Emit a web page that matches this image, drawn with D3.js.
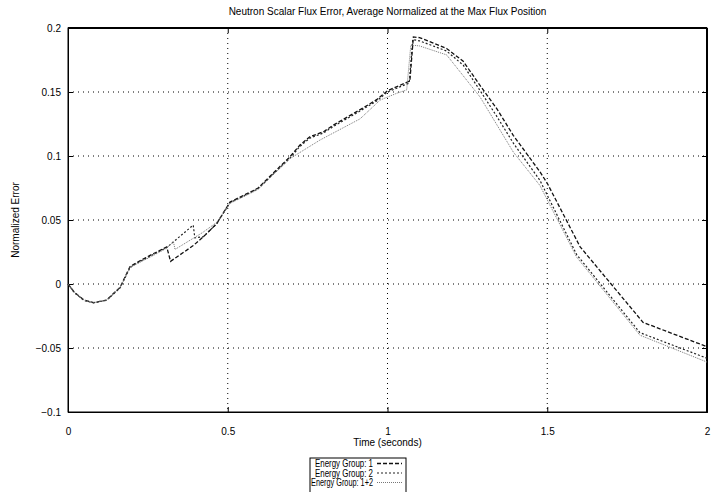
<!DOCTYPE html>
<html>
<head>
<meta charset="utf-8">
<script src="https://cdn.jsdelivr.net/npm/d3@7"></script>
<style>
  body { margin: 0; background: #fff; }
  text { font-family: "Liberation Sans", Arial, sans-serif; fill: #000; }
  .grid line { stroke: #000; stroke-width: 1; stroke-dasharray: 1,4; }
</style>
</head>
<body>
<svg id="chart" width="711" height="492"></svg>
<script>
// values
const time1 = [0, 0.02, 0.05, 0.08, 0.121, 0.163, 0.194, 0.21, 0.257, 0.309, 0.321, 0.392, 0.424, 0.465, 0.507, 0.58, 0.595, 0.695, 0.726, 0.757, 0.80, 0.83, 0.923, 0.966, 1.0, 1.07, 1.081, 1.1, 1.185, 1.237, 1.29, 1.342, 1.394, 1.477, 1.5, 1.603, 1.80, 2.0]
const err1 = [0, -0.0065, -0.0125, -0.0146, -0.0125, -0.0026, 0.0135, 0.016, 0.0224, 0.029, 0.0177, 0.030, 0.037, 0.047, 0.064, 0.073, 0.075, 0.0995, 0.1086, 0.115, 0.119, 0.124, 0.1375, 0.144, 0.151, 0.1586, 0.193, 0.1925, 0.184, 0.174, 0.155, 0.137, 0.116, 0.0877, 0.0787, 0.029, -0.030, -0.049]

const time2 = [0, 0.02, 0.05, 0.08, 0.121, 0.163, 0.194, 0.21, 0.257, 0.309, 0.392, 0.397, 0.424, 0.465, 0.507, 0.58, 0.595, 0.695, 0.726, 0.757, 0.80, 0.83, 0.923, 0.966, 1.0, 1.068, 1.079, 1.1, 1.185, 1.237, 1.29, 1.342, 1.394, 1.477, 1.592, 1.79, 2.0]
const err2 = [0, -0.0068, -0.0128, -0.0148, -0.0127, -0.003, 0.0128, 0.0155, 0.0218, 0.0285, 0.046, 0.036, 0.037, 0.047, 0.0635, 0.0725, 0.0745, 0.0985, 0.1075, 0.114, 0.118, 0.123, 0.1365, 0.143, 0.150, 0.157, 0.191, 0.190, 0.182, 0.171, 0.151, 0.131, 0.110, 0.081, 0.023, -0.038, -0.058]

const time12 = [0, 0.02, 0.05, 0.08, 0.121, 0.163, 0.194, 0.21, 0.257, 0.309, 0.33, 0.335, 0.42, 0.465, 0.507, 0.58, 0.595, 0.695, 0.789, 0.914, 0.977, 1.029, 1.06, 1.073, 1.1, 1.185, 1.29, 1.394, 1.477, 1.592, 1.79, 2.0]
const err12 = [0, -0.0065, -0.0125, -0.0146, -0.0125, -0.0026, 0.013, 0.015, 0.021, 0.028, 0.033, 0.027, 0.040, 0.048, 0.063, 0.072, 0.074, 0.098, 0.1125, 0.129, 0.1437, 0.149, 0.1516, 0.1867, 0.186, 0.179, 0.146, 0.103, 0.077, 0.021, -0.040, -0.061]

const seriesNames = ["Energy Group: 1", "Energy Group: 2", "Energy Group: 1+2"]
const xTicks = [0, 0.5, 1, 1.5, 2]
const yTicks = [-0.1, -0.05, 0, 0.05, 0.1, 0.15, 0.2]

const plotLeft = 68, plotRight = 707, plotTop = 28, plotBottom = 412

const svg = d3.select("#chart")

const x = d3.scaleLinear().domain([0, 2]).range([plotLeft, plotRight])
const y = d3.scaleLinear().domain([-0.1, 0.2]).range([plotBottom, plotTop])

// grid
const grid = svg.append("g").attr("class", "grid")
grid.selectAll("line.gx")
    .data(xTicks.slice(1, -1))
    .enter()
    .append("line")
    .attr("x1", d => x(d)).attr("x2", d => x(d))
    .attr("y1", plotTop).attr("y2", plotBottom)
grid.selectAll("line.gy")
    .data(yTicks.slice(1, -1))
    .enter()
    .append("line")
    .attr("x1", plotLeft).attr("x2", plotRight)
    .attr("y1", d => y(d)).attr("y2", d => y(d))

// axes with mirrored inward ticks
svg.append("g")
    .attr("transform", "translate(0," + plotBottom + ")")
    .call(d3.axisBottom(x).tickValues(xTicks).tickFormat(d3.format("")).tickSize(-5).tickPadding(16))
svg.append("g")
    .attr("transform", "translate(0," + plotTop + ")")
    .call(d3.axisTop(x).tickValues(xTicks).tickFormat("").tickSize(-5))
svg.append("g")
    .attr("transform", "translate(" + plotLeft + ",0)")
    .call(d3.axisLeft(y).tickValues(yTicks).tickFormat(d3.format("")).tickSize(-5).tickPadding(7))
svg.append("g")
    .attr("transform", "translate(" + plotRight + ",0)")
    .call(d3.axisRight(y).tickValues(yTicks).tickFormat("").tickSize(-5))

svg.selectAll(".domain").attr("stroke", "#000")
svg.selectAll(".tick line").attr("stroke", "#000")
svg.selectAll(".tick text").style("font-family", "Liberation Sans, Arial, sans-serif").style("font-size", "10px")

svg.append("rect")
    .attr("x", plotLeft).attr("y", plotTop)
    .attr("width", plotRight - plotLeft).attr("height", plotBottom - plotTop)
    .attr("fill", "none").attr("stroke", "#000").attr("stroke-width", 1)
svg.append("line")
    .attr("x1", plotLeft).attr("x2", plotRight).attr("y1", plotTop).attr("y2", plotTop)
    .attr("stroke", "#000").attr("stroke-width", 2)
svg.append("line")
    .attr("x1", plotRight).attr("x2", plotRight).attr("y1", plotTop).attr("y2", plotBottom)
    .attr("stroke", "#000").attr("stroke-width", 2)

// lines
const styles = [
    { dash: "4,2", color: "#111", width: 1.3 },
    { dash: "2,2", color: "#222", width: 1.2 },
    { dash: "1,1", color: "#777", width: 1 }
]
const series = [
    d3.zip(time1, err1),
    d3.zip(time2, err2),
    d3.zip(time12, err12)
]
const line = d3.line().x(d => x(d[0])).y(d => y(d[1]))

svg.selectAll("path.series")
    .data(series)
    .enter()
    .append("path")
    .attr("class", "series")
    .attr("d", line)
    .attr("fill", "none")
    .attr("stroke", (d, i) => styles[i].color)
    .attr("stroke-width", (d, i) => styles[i].width)
    .attr("stroke-dasharray", (d, i) => styles[i].dash)

// titles
svg.append("text")
    .attr("x", (plotLeft + plotRight) / 2).attr("y", 15)
    .attr("text-anchor", "middle")
    .style("font-size", "10px")
    .text("Neutron Scalar Flux Error, Average Normalized at the Max Flux Position")

svg.append("text")
    .attr("x", (plotLeft + plotRight) / 2).attr("y", 446)
    .attr("text-anchor", "middle")
    .style("font-size", "10px")
    .text("Time (seconds)")

svg.append("text")
    .attr("transform", "translate(19," + (plotTop + plotBottom) / 2 + ") rotate(-90)")
    .attr("text-anchor", "middle")
    .style("font-size", "10px")
    .text("Normalized Error")

// legend
const legend = svg.append("g")
legend.append("rect")
    .attr("x", 310).attr("y", 458)
    .attr("width", 96).attr("height", 40)
    .attr("fill", "none").attr("stroke", "#000")

const rows = legend.selectAll("g.row")
    .data(seriesNames)
    .enter()
    .append("g")
    .attr("transform", (d, i) => "translate(0," + (463.5 + i * 9.5) + ")")
rows.append("text")
    .attr("x", 373).attr("y", 3.5)
    .attr("text-anchor", "end")
    .style("font-size", "10px")
    .attr("textLength", (d, i) => [58, 58, 62][i])
    .attr("lengthAdjust", "spacingAndGlyphs")
    .text(d => d)
rows.append("line")
    .attr("x1", 377).attr("x2", 402)
    .attr("y1", 0).attr("y2", 0)
    .attr("stroke", (d, i) => styles[i].color)
    .attr("stroke-width", (d, i) => styles[i].width)
    .attr("stroke-dasharray", (d, i) => styles[i].dash)
</script>
</body>
</html>
